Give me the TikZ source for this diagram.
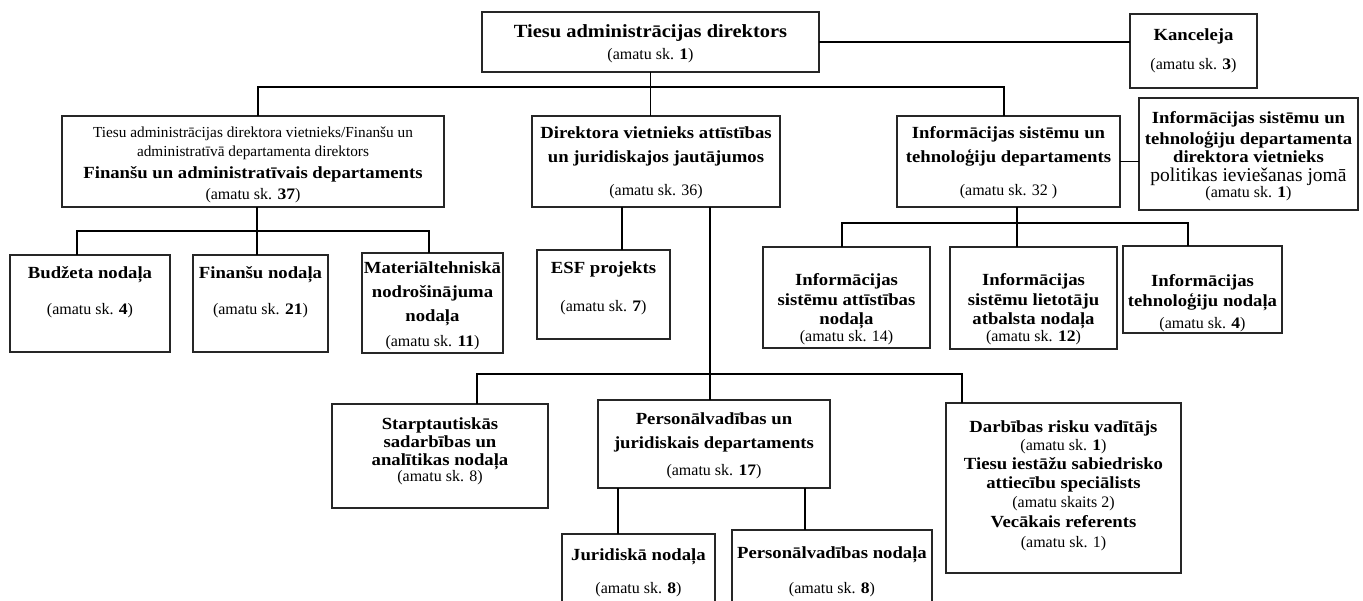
\documentclass[tikz,border=0pt]{standalone}
\usepackage{fontspec}
\setmainfont{Liberation Serif}[BoldFeatures={FakeStretch=1.1}]
\newcommand{\Ln}[3]{\hbox to\hsize{\hss#2\vrule width0pt height#1pt depth4pt\relax#3\hss}}
\newcommand{\Bx}[3]{\parbox[c][#2pt][t]{#1pt}{\offinterlineskip#3}}
\newcommand{\fB}{\fontsize{17}{20}\selectfont\bfseries}
\newcommand{\fT}{\fontsize{18.6}{22}\selectfont\bfseries}
\newcommand{\fA}{\fontsize{16}{19}\selectfont\mdseries}
\newcommand{\fN}{\fontsize{15.3}{18}\selectfont\mdseries}
\newcommand{\fP}{\fontsize{19.5}{22}\selectfont\mdseries}
\begin{document}
\begin{tikzpicture}[x=1pt,y=-1pt,
  orgbox/.style={draw=black!85, line width=1.1pt, inner sep=0pt, outer sep=0pt, anchor=north west, fill=white},
  conn/.style={draw=black, line width=1.1pt}]
\fill[white] (0,0) rectangle (1363,601);
\useasboundingbox (0,0) rectangle (1363,601);
\clip (0,0) rectangle (1363,601);

% row 0
\node[orgbox] (dir) at (482,12) {\Bx{337}{60}{\Ln{25.5}{\fT}{Tiesu administrācijas direktors}\Ln{18}{\fA}{(amatu sk. \textbf{1})}}};
\node[orgbox] (kanc) at (1130,14) {\Bx{127}{74}{\Ln{27}{\fB}{Kanceleja}\Ln{25}{\fA}{(amatu sk. \textbf{3})}}};

% row 1
\node[orgbox] (fin) at (62,116) {\Bx{382}{91}{\Ln{22}{\fN}{Tiesu administrācijas direktora vietnieks/Finanšu un}\Ln{15}{\fN}{administratīvā departamenta direktors}\Ln{18}{\fB}{Finanšu un administratīvais departaments}\Ln{17}{\fA}{(amatu sk. \textbf{37})}}};
\node[orgbox] (dv) at (532,116) {\Bx{248}{91}{\Ln{23}{\fB}{Direktora vietnieks attīstības}\Ln{20}{\fB}{un juridiskajos jautājumos}\Ln{29}{\fA}{(amatu sk. 36)}}};
\node[orgbox] (isd) at (897,116) {\Bx{223}{91}{\Ln{23}{\fB}{Informācijas sistēmu un}\Ln{20}{\fB}{tehnoloģiju departaments}\Ln{29}{\fA}{(amatu sk. 32 )}}};
\node[orgbox] (isv) at (1139,98) {\Bx{219}{112}{\Ln{26}{\fB}{Informācijas sistēmu un}\Ln{17}{\fB}{tehnoloģiju departamenta}\Ln{14}{\fB}{direktora vietnieks}\Ln{15}{\fP}{politikas ieviešanas jomā}\Ln{11}{\fA}{(amatu sk. \textbf{1})}}};

% row 2
\node[orgbox] (bud) at (10,255) {\Bx{160}{97}{\Ln{24}{\fB}{Budžeta nodaļa}\Ln{31}{\fA}{(amatu sk. \textbf{4})}}};
\node[orgbox] (finn) at (193,255) {\Bx{135}{97}{\Ln{24}{\fB}{Finanšu nodaļa}\Ln{31}{\fA}{(amatu sk. \textbf{21})}}};
\node[orgbox] (mat) at (362,253) {\Bx{141}{100}{\Ln{21}{\fB}{Materiāltehniskā}\Ln{20}{\fB}{nodrošinājuma}\Ln{20}{\fB}{nodaļa}\Ln{20}{\fA}{(amatu sk. \textbf{11})}}};
\node[orgbox] (esf) at (537,250) {\Bx{133}{89}{\Ln{24}{\fB}{ESF projekts}\Ln{34}{\fA}{(amatu sk. \textbf{7})}}};
\node[orgbox] (isa) at (763,247) {\Bx{167}{101}{\Ln{39}{\fB}{Informācijas}\Ln{16}{\fB}{sistēmu attīstības}\Ln{15}{\fB}{nodaļa}\Ln{12}{\fA}{(amatu sk. 14)}}};
\node[orgbox] (isl) at (950,247) {\Bx{167}{102}{\Ln{39}{\fB}{Informācijas}\Ln{16}{\fB}{sistēmu lietotāju}\Ln{15}{\fB}{atbalsta nodaļa}\Ln{12}{\fA}{(amatu sk. \textbf{12})}}};
\node[orgbox] (ist) at (1123,246) {\Bx{159}{87}{\Ln{41}{\fB}{Informācijas}\Ln{16}{\fB}{tehnoloģiju nodaļa}\Ln{17}{\fA}{(amatu sk. \textbf{4})}}};

% row 3
\node[orgbox] (sta) at (332,404) {\Bx{216}{104}{\Ln{25}{\fB}{Starptautiskās}\Ln{14}{\fB}{sadarbības un}\Ln{14}{\fB}{analītikas nodaļa}\Ln{12}{\fA}{(amatu sk. 8)}}};
\node[orgbox] (pjd) at (598,400) {\Bx{232}{88}{\Ln{24}{\fB}{Personālvadības un}\Ln{20}{\fB}{juridiskais departaments}\Ln{23}{\fA}{(amatu sk. \textbf{17})}}};
\node[orgbox] (dar) at (946,403) {\Bx{235}{170}{\Ln{29}{\fB}{Darbības risku vadītājs}\Ln{14}{\fA}{(amatu sk. \textbf{1})}\Ln{15}{\fB}{Tiesu iestāžu sabiedrisko}\Ln{15}{\fB}{attiecību speciālists}\Ln{15}{\fA}{(amatu skaits 2)}\Ln{16}{\fB}{Vecākais referents}\Ln{16}{\fA}{(amatu sk. 1)}}};

% row 4
\node[orgbox] (jur) at (562,534) {\Bx{153}{100}{\Ln{26}{\fB}{Juridiskā nodaļa}\Ln{29}{\fA}{(amatu sk. \textbf{8})}}};
\node[orgbox] (pvn) at (732,530) {\Bx{200}{100}{\Ln{28}{\fB}{Personālvadības nodaļa}\Ln{31}{\fA}{(amatu sk. \textbf{8})}}};

% connectors
\draw[conn] (dir.east) -- (dir.east -| kanc.west);
\coordinate (b1) at (0,87);
\coordinate (aFin) at ([xshift=5pt]fin.north);
\coordinate (aIsd) at ([xshift=-4.5pt]isd.north);
\draw[conn] (aFin) -- (aFin |- b1) -- (aIsd |- b1) -- (aIsd);
\draw[conn] (dir.south) -- (dir.south |- dv.north);
\draw[conn] (isd.east) -- (isd.east -| isv.west);

\coordinate (b2) at (0,231);
\coordinate (aBud) at ([xshift=-13pt]bud.north);
\coordinate (aFinn) at ([xshift=-3.5pt]finn.north);
\coordinate (aMat) at ([xshift=-3.5pt]mat.north);
\draw[conn] (aFinn |- fin.south) -- (aFinn);
\draw[conn] (aBud) -- (aBud |- b2) -- (aMat |- b2) -- (aMat);

\coordinate (aEsf) at ([xshift=18.5pt]esf.north);
\draw[conn] (aEsf |- dv.south) -- (aEsf);
\coordinate (aPjd) at ([xshift=-4pt]pjd.north);
\draw[conn] (aPjd |- dv.south) -- (aPjd);

\coordinate (b3) at (0,374);
\coordinate (aSta) at ([xshift=37pt]sta.north);
\coordinate (aDar) at ([xshift=-101.5pt]dar.north);
\draw[conn] (aSta) -- (aSta |- b3) -- (aDar |- b3) -- (aDar);

\coordinate (b4) at (0,223);
\coordinate (aIsa) at ([xshift=-4.5pt]isa.north);
\coordinate (aIsl) at ([xshift=-16.5pt]isl.north);
\coordinate (aIst) at ([xshift=-14.5pt]ist.north);
\draw[conn] (aIsl |- isd.south) -- (aIsl);
\draw[conn] (aIsa) -- (aIsa |- b4) -- (aIst |- b4) -- (aIst);

\coordinate (aJur) at ([xshift=-20.5pt]jur.north);
\coordinate (aPvn) at ([xshift=-27pt]pvn.north);
\draw[conn] (aJur |- pjd.south) -- (aJur);
\draw[conn] (aPvn |- pjd.south) -- (aPvn);
\end{tikzpicture}
\end{document}
